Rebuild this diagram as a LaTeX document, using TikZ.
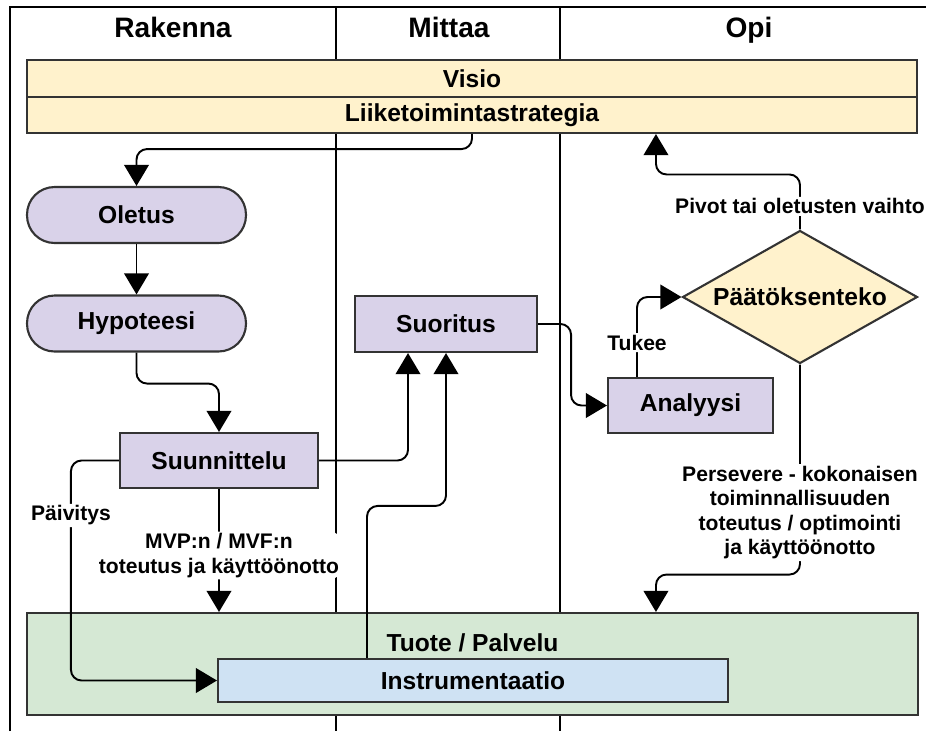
\documentclass[tikz,border=0pt]{standalone}
\usepackage{fontspec}
\setmainfont{Liberation Sans}
\usetikzlibrary{arrows.meta,shapes.geometric}
\definecolor{lila}{HTML}{D9D2E9}
\definecolor{kelta}{HTML}{FFF2CC}
\definecolor{vihrea}{HTML}{D5E8D4}
\definecolor{sininen}{HTML}{CFE2F3}
\definecolor{reuna}{HTML}{333333}
\begin{document}
\begin{tikzpicture}[x=0.02cm, y=-0.02cm, >={Triangle[length=12pt,width=14pt]},
    laatikko/.style={draw=reuna, line width=1.2pt, fill=lila, inner sep=0pt,
      font=\fontsize{14}{16}\selectfont\bfseries},
    kapseli/.style={laatikko, rounded corners=0.55cm, minimum width=4.38cm, minimum height=1.12cm},
    nuoli/.style={->, line width=1.1pt, rounded corners=6pt},
    selite/.style={fill=white, inner sep=1pt, align=center, font=\fontsize{12}{14}\selectfont\bfseries},
    otsikko/.style={anchor=base, font=\fontsize{16}{18}\selectfont\bfseries}]
  \useasboundingbox (0,0) rectangle (926,731);
  % kaistat
  \draw[line width=1.7pt] (10,731) -- (10,7) -- (926,7);
  \draw[line width=1.4pt] (336,7) -- (336,731);  \draw[line width=1.4pt] (560,7) -- (560,731);
  \node[otsikko] (rak) at (173,37) {Rakenna};
  \node[otsikko] (mit) at (449,37) {Mittaa};
  \node[otsikko] (opi) at (749,37) {Opi};
  % laatikot
  \node[laatikko, fill=kelta, minimum width=17.8cm, minimum height=0.74cm] (visio) at (472,78.5) {Visio};
  \node[laatikko, fill=kelta, minimum width=17.8cm, minimum height=0.72cm] (liike) at (472,115) {Liiketoimintastrategia};
  \node[kapseli] (oletus) at (136.5,215) {Oletus};
  \node[kapseli] (hypo) at (136.5,323.5) {Hypoteesi};
  \node[laatikko, minimum width=3.96cm, minimum height=1.1cm] (suun) at (219,460.5) {Suunnittelu};
  \node[laatikko, minimum width=3.64cm, minimum height=1.12cm] (suor) at (446,324) {Suoritus};
  \node[laatikko, minimum width=3.3cm, minimum height=1.1cm] (anal) at (690.5,405.5) {Analyysi};
  \node[laatikko, diamond, aspect=1.77, fill=kelta, minimum width=4.7cm, minimum height=2.66cm] (paat) at (800,297) {Päätöksenteko};
  \node[laatikko, fill=vihrea, minimum width=17.82cm, minimum height=2.04cm,
    label={[anchor=center, yshift=-0.62cm, font=\fontsize{14}{16}\selectfont\bfseries]north:Tuote / Palvelu}] (tuote) at (472.5,664) {};
  \node[laatikko, fill=sininen, minimum width=10.2cm, minimum height=0.86cm] (instr) at (473,680.5) {Instrumentaatio};
  % nuolet
  \draw[nuoli] (liike.south) -- ++(0,15) -| (oletus.north);
  \draw[nuoli] (oletus) -- (hypo);
  \draw[nuoli] (hypo.south) -- ++(0,31) -| (suun.north);
  \draw[nuoli] (suun.east) -| ([xshift=-0.76cm]suor.south);
  \draw[nuoli] ([xshift=-2.12cm]instr.north) -- ++(0,-152) -| (suor.south);
  \draw[nuoli] (suor.east) -- ++(33,0) |- (anal.west);
  \draw[nuoli] ([xshift=-1.07cm]anal.north) |- node[selite, pos=0.215]{Tukee} (paat.west);
  \draw[nuoli] (paat.north) -- node[selite, pos=0.42]{Pivot tai oletusten vaihto} ++(0,-55) -| ([xshift=3.68cm]liike.south);
  \draw[nuoli] (paat.south) -- node[selite, pos=0.705]{Persevere - kokonaisen\\toiminnallisuuden\\toteutus / optimointi\\ja käyttöönotto} ++(0,210) -| ([xshift=3.67cm]tuote.north);
  \draw[nuoli] (suun.south) -- node[selite, pos=0.54]{MVP:n / MVF:n\\toteutus ja käyttöönotto} (suun.south |- tuote.north);
  \draw[nuoli] (suun.west) -- ++(-48,0) |- node[selite, pos=0.125]{Päivitys} (instr.west);
\end{tikzpicture}
\end{document}
